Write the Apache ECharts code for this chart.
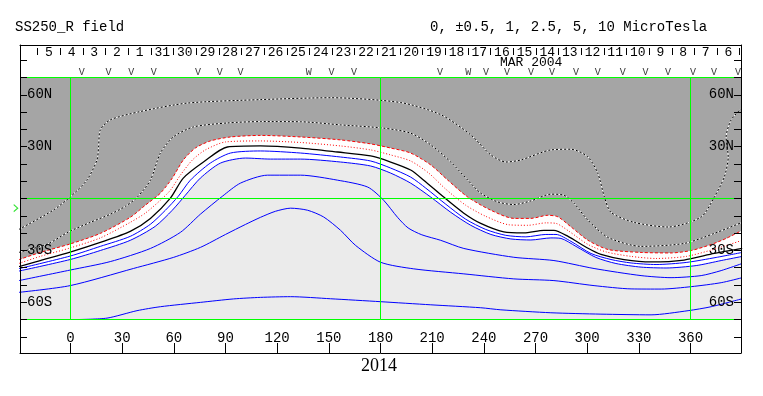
<!DOCTYPE html>
<html>
<head>
<meta charset="utf-8">
<script src="https://cdn.jsdelivr.net/npm/echarts@6/dist/echarts.min.js"></script>
<style>
html,body{margin:0;padding:0;background:#fff;}
#chart{width:763px;height:396px;}
</style>
</head>
<body>
<div id="chart"></div>
<script>
// contours of the source surface field, [carrington lon, lat]
var c0 = [[-30,-39.4],[-17.6,-35.9],[-0.2,-31.0],[17.3,-25.4],[34.7,-19.0],[46.4,-11.5],[58.0,0.2],[65.5,11.8],[77.2,21.1],[91.1,29.8],[110.3,30.4],[133.6,29.2],[155.1,26.9],[174.3,24.6],[185.9,21.1],[197.5,16.5],[205.1,10.6],[216.7,0.8],[228.4,-8.5],[238.2,-14.4],[251.6,-19.3],[263.3,-19.9],[274.9,-18.4],[280.7,-18.4],[288.9,-21.9],[300.5,-28.8],[308.0,-32.3],[321.4,-35.3],[337.1,-36.7],[356.3,-35.6],[373.8,-31.8],[390,-28.9]];
var cp05 = [[-30,-37.6],[-17.6,-33.5],[-0.2,-28.6],[17.3,-22.8],[34.7,-13.8],[43.4,-8.5],[52.2,-1.0],[58.0,4.8],[63.8,13.5],[70.8,22.3],[78.3,28.1],[89.9,32.7],[110.3,33.3],[133.6,32.4],[156.8,30.4],[174.3,28.1],[185.9,25.2],[197.5,21.7],[208.0,14.7],[217.9,5.4],[229.5,-3.9],[241.1,-10.3],[254.5,-15.2],[265.6,-15.5],[276.0,-14.1],[281.9,-14.4],[289.5,-19.0],[300.5,-26.6],[311.0,-30.9],[325.5,-33.5],[340.0,-34.7],[357.5,-33.5],[373.2,-29.5],[390,-24.2]];
var cp1 = [[-30,-35.4],[-17.6,-31.2],[-0.2,-26.3],[17.3,-20.2],[34.7,-10.9],[43.4,-3.9],[52.2,3.1],[59.1,11.8],[65.5,22.3],[72.5,29.2],[81.2,33.3],[92.9,35.6],[110.3,36.5],[133.6,35.6],[156.8,33.9],[174.3,31.6],[185.9,29.2],[197.5,26.3],[209.2,19.4],[219.1,10.6],[230.7,0.8],[244.1,-6.8],[257.4,-11.5],[267.3,-11.5],[277.2,-9.7],[283.0,-10.6],[290.6,-16.4],[300.5,-24.2],[312.1,-29.5],[331.3,-31.2],[348.7,-31.5],[360.4,-30.1],[372.0,-26.6],[380.7,-23.1],[390,-18.4]];
var cp25 = [[-30,-31.2],[-13.0,-26.2],[-1.3,-19.4],[11.5,-13.8],[23.1,-9.1],[31.9,-4.5],[38.8,0.8],[46.4,10.6],[52.2,26.3],[59.7,35.6],[71.4,41.4],[91.1,43.7],[110.3,44.5],[133.6,44.4],[156.8,42.6],[181.8,40.7],[197.5,37.8],[209.2,31.0],[220.8,21.1],[230.7,10.6],[238.2,3.1],[248.1,-2.0],[257.4,-3.5],[267.3,-1.4],[278.9,2.5],[286.5,1.9],[292.3,-2.7],[300.5,-12.6],[312.1,-22.5],[331.3,-27.7],[356.3,-26.0],[373.8,-20.2],[390,-13.8]];
var cp5 = [[-30,-17.9],[-10.1,-6.8],[-0.2,0.9],[9.5,10.6],[15.4,22.3],[16.3,29.8],[17.3,39.7],[23.1,45.5],[40.5,50.3],[67.9,55.2],[110.3,57.2],[151.0,58.3],[191.7,55.5],[215.0,48.5],[232.4,36.8],[244.1,25.2],[252.8,21.1],[261.5,22.3],[278.9,28.1],[290.6,28.5],[300.3,24.2],[306.2,14.5],[310.0,0.9],[313.8,-8.0],[327.2,-13.8],[346.9,-16.5],[366.2,-10.7],[373.8,0.8],[379.6,12.4],[381.9,24.0],[380.7,35.6],[383.6,45.5],[390,52.5]];
var cm05 = [[-30,-40.6],[-0.2,-33.3],[17.3,-27.7],[34.7,-21.9],[46.4,-14.9],[55.1,-6.8],[62.6,1.3],[69.6,10.6],[81.2,20.5],[92.9,26.3],[110.3,27.5],[133.6,26.3],[156.8,24.0],[174.3,21.7],[185.9,17.6],[197.5,12.4],[206.3,6.0],[217.9,-3.3],[229.5,-12.0],[241.1,-17.9],[252.7,-21.3],[264.4,-22.2],[276.0,-20.8],[281.9,-20.8],[290.6,-24.8],[302.2,-31.8],[313.8,-35.3],[325.5,-37.3],[340.0,-38.2],[357.5,-37.0],[374.9,-34.1],[390,-31.2]];
var cm1 = [[-30,-42.0],[-0.2,-35.3],[17.3,-30.1],[34.7,-24.2],[49.2,-16.1],[59.1,-6.8],[66.7,1.9],[75.4,11.8],[87.1,20.5],[101.6,23.4],[116.1,22.8],[133.6,22.8],[156.8,21.1],[174.3,18.8],[185.9,14.7],[197.5,8.9],[209.2,0.8],[220.8,-8.0],[232.4,-15.5],[244.1,-20.8],[255.7,-23.4],[267.3,-24.0],[278.9,-22.8],[284.8,-23.1],[293.5,-27.7],[305.1,-34.1],[316.7,-37.6],[331.3,-39.7],[345.8,-40.2],[363.3,-38.8],[377.8,-35.9],[390,-33.5]];
var cm25 = [[-30,-47.5],[-0.2,-41.4],[23.1,-36.5],[46.4,-28.9],[63.8,-19.6],[75.4,-9.1],[88.2,1.3],[98.7,8.9],[114.4,13.5],[133.6,13.5],[155.1,10.6],[172.6,6.6],[181.8,-1.0],[189.9,-10.9],[196.0,-17.0],[204.0,-21.0],[215.0,-24.2],[228.4,-28.9],[257.4,-34.0],[280.7,-35.9],[304.0,-40.5],[331.3,-44.6],[348.7,-45.8],[366.2,-44.6],[377.8,-41.7],[390,-37.6]];
var cm5 = [[-30,-54.3],[-0.2,-50.4],[36.5,-40.5],[59.7,-34.1],[75.4,-28.3],[90.0,-20.8],[101.6,-15.0],[110.3,-10.9],[119.0,-7.4],[127.8,-5.6],[137.7,-6.8],[147.0,-10.7],[156.8,-18.4],[165.6,-27.2],[180.1,-36.9],[199.3,-40.7],[228.4,-43.6],[257.4,-46.5],[280.7,-47.5],[304.0,-50.4],[325.5,-52.3],[343.0,-52.4],[360.4,-51.0],[377.8,-48.7],[390,-45.8]];
var cm10 = [[5,-70],[21.2,-69.2],[38.6,-64.9],[52.2,-62.6],[75.4,-60.1],[94.6,-58.1],[110.3,-57.2],[127.8,-56.8],[151.0,-58.0],[180.1,-59.7],[209.2,-61.5],[238.2,-63.2],[249.9,-64.4],[278.9,-66.1],[308.0,-66.9],[337.1,-67.3],[358.6,-64.9],[372.0,-62.6],[390,-58.0]];

// axis labels
var lonLabels = [0,30,60,90,120,150,180,210,240,270,300,330,360];
var latTicks = [-80,-70,-60,-50,-40,-30,-20,-10,0,10,20,30,40,50,60,70,80];
var latLabelVals = [60,30,-30,-60];
var latLabelText = ['60N','30N','30S','60S'];
var gridLons = [0,180,360];
var gridLats = [70,0,-70];
// days of the rotation, counted from 1 MAR 2004 (32 = 1 APR)
var dayNums = [36,35,34,33,32,31,30,29,28,27,26,25,24,23,22,21,20,19,18,17,16,15,14,13,12,11,10,9,8,7,6];
// observation marks along the top edge
var vMarks = [6.6,22.1,35.3,48.3,74.1,86.7,98.7,151.6,164.6,214.6,241.2,253.4,267.4,279.6,293.5,306.2,320.7,333.8,346.9,361.4,373.6,387.6];
var wMarks = [138.4,230.9];
var earthLat = -5.6;

var mono = '"Liberation Mono","DejaVu Sans Mono",monospace';
// the frame runs a little inside -30..390 / -90..90
var lonMin = -29.32, lonMax = 389.32;
var latMin = -89.38, latMax = 88.8;
// day <-> carrington longitude (longitude runs backwards in time)
function dayAt(lon){ return 6.5 + (382 - lon) / 13.15; }

var dayTicks = [];
for (var d = Math.ceil(dayAt(lonMax)); d <= Math.floor(dayAt(lonMin)); d++) dayTicks.push(d);
var dayLabelVals = dayNums.map(function(d){ return d + 0.5; });

function contour(data, color, type, width){
	return {type:'line', data:data, symbol:'none', smooth:0.25, silent:true, z:4,
		lineStyle:{color:color, width:width||1, type:type||'solid'}};
}
function fill(data, color, origin){
	return {type:'line', data:data, symbol:'none', smooth:0.25, silent:true, z:1,
		lineStyle:{width:0, opacity:0}, areaStyle:{color:color, opacity:1, origin:origin}};
}

var series = [
	fill(cp1, '#a5a5a5', 70),
	fill(cm1, '#ebebeb', -70),
	contour(cp5, '#ffffff'), contour(cp5, '#000000', [2,2]),
	contour(cp25, '#ffffff'), contour(cp25, '#000000', [2,2]),
	contour(cp1, '#ff0000', [3,2]),
	contour(cp05, '#ff0000', [1,2]),
	contour(c0, '#000000', 'solid', 1.3),
	contour(cm05, '#0000ff'),
	contour(cm1, '#0000ff'),
	contour(cm25, '#0000ff'),
	contour(cm5, '#0000ff'),
	contour(cm10, '#0000ff')
];
// green grid, as mark lines on an empty series
var greenLines = [];
gridLons.forEach(function(l){ greenLines.push([{coord:[l,-70]},{coord:[l,70]}]); });
gridLats.forEach(function(l){ greenLines.push([{coord:[lonMin,l]},{coord:[lonMax,l]}]); });
series.push({type:'line', data:[], symbol:'none', silent:true, z:8,
	markLine:{silent:true, symbol:['none','none'], label:{show:false}, animation:false,
		lineStyle:{color:'#00ff00', width:1, type:'solid', opacity:1}, data:greenLines}});
// V / W marks
function marks(lons, ch){
	return {type:'scatter', data:lons.map(function(l){ return [l, 72.8]; }), symbolSize:1, silent:true, z:9,
		itemStyle:{color:'rgba(0,0,0,0)'},
		label:{show:true, position:'inside', formatter:ch, color:'#000', fontFamily:mono, fontSize:10}};
}
series.push(marks(vMarks, 'V'));
series.push(marks(wMarks, 'W'));
// earth latitude marker
series.push({type:'scatter', data:[[-31.8, earthLat]], clip:false, silent:true, z:9,
	symbol:'path://M0,0L8,5L0,10', symbolSize:[4,7],
	itemStyle:{color:'none', borderColor:'#00dd00', borderWidth:1}});

var axisBlack = {color:'#000', width:1};
function latLabel(v){ var i = latLabelVals.indexOf(v); return i >= 0 ? latLabelText[i] : ''; }
function latAxis(pos){
	return {type:'value', position:pos, min:latMin, max:latMax, z:10,
		axisLine:{show:true, onZero:false, lineStyle:axisBlack},
		axisTick:{show:true, inside:true, length:7, customValues:latTicks, lineStyle:axisBlack},
		axisLabel:{inside:true, margin:7, customValues:latLabelVals, color:'#000', fontFamily:mono, fontSize:14, formatter:latLabel},
		splitLine:{show:false}};
}
var option = {
	animation:false,
	backgroundColor:'#fff',
	title:[
		{text:'SS250_R field', left:15, top:20, padding:0, textStyle:{fontFamily:mono, fontSize:14, fontWeight:'normal', color:'#000'}},
		{text:'0, \u00b10.5, 1, 2.5, 5, 10 MicroTesla', left:430, top:20, padding:0, textStyle:{fontFamily:mono, fontSize:14, fontWeight:'normal', color:'#000'}},
		{text:'MAR 2004', left:500, top:56, padding:0, textStyle:{fontFamily:mono, fontSize:13, fontWeight:'normal', color:'#000'}},
		{text:'2014', left:361, top:357, padding:0, textStyle:{fontFamily:'"Liberation Serif",serif', fontSize:18, fontWeight:'normal', color:'#000'}}
	],
	grid:{left:20, right:22, top:45, bottom:43},
	xAxis:[
		{type:'value', position:'bottom', min:lonMin, max:lonMax, z:10,
			axisLine:{show:true, onZero:false, lineStyle:axisBlack},
			axisTick:{show:true, inside:true, length:10, customValues:lonLabels, lineStyle:axisBlack},
			axisLabel:{inside:true, margin:8, customValues:lonLabels, color:'#000', fontFamily:mono, fontSize:14},
			splitLine:{show:false}},
		// day strip: ticks hang a little below the frame line
		{type:'value', position:'top', offset:-3, min:dayAt(lonMax), max:dayAt(lonMin), inverse:true, z:10,
			axisLine:{show:false, onZero:false},
			axisTick:{show:true, inside:true, length:7, customValues:dayTicks, lineStyle:axisBlack},
			axisLabel:{inside:true, margin:-2, customValues:dayLabelVals, color:'#000', fontFamily:mono, fontSize:13,
				formatter:function(v){ var d = Math.floor(v); return String(d > 31 ? d - 31 : d); }},
			splitLine:{show:false}},
		// top frame line
		{type:'value', position:'top', min:lonMin, max:lonMax, z:10,
			axisLine:{show:true, onZero:false, lineStyle:axisBlack},
			axisTick:{show:false}, axisLabel:{show:false}, splitLine:{show:false}}
	],
	yAxis:[latAxis('left'), latAxis('right')],
	series:series
};
var chart = echarts.init(document.getElementById('chart'));
chart.setOption(option);
</script>
</body>
</html>
